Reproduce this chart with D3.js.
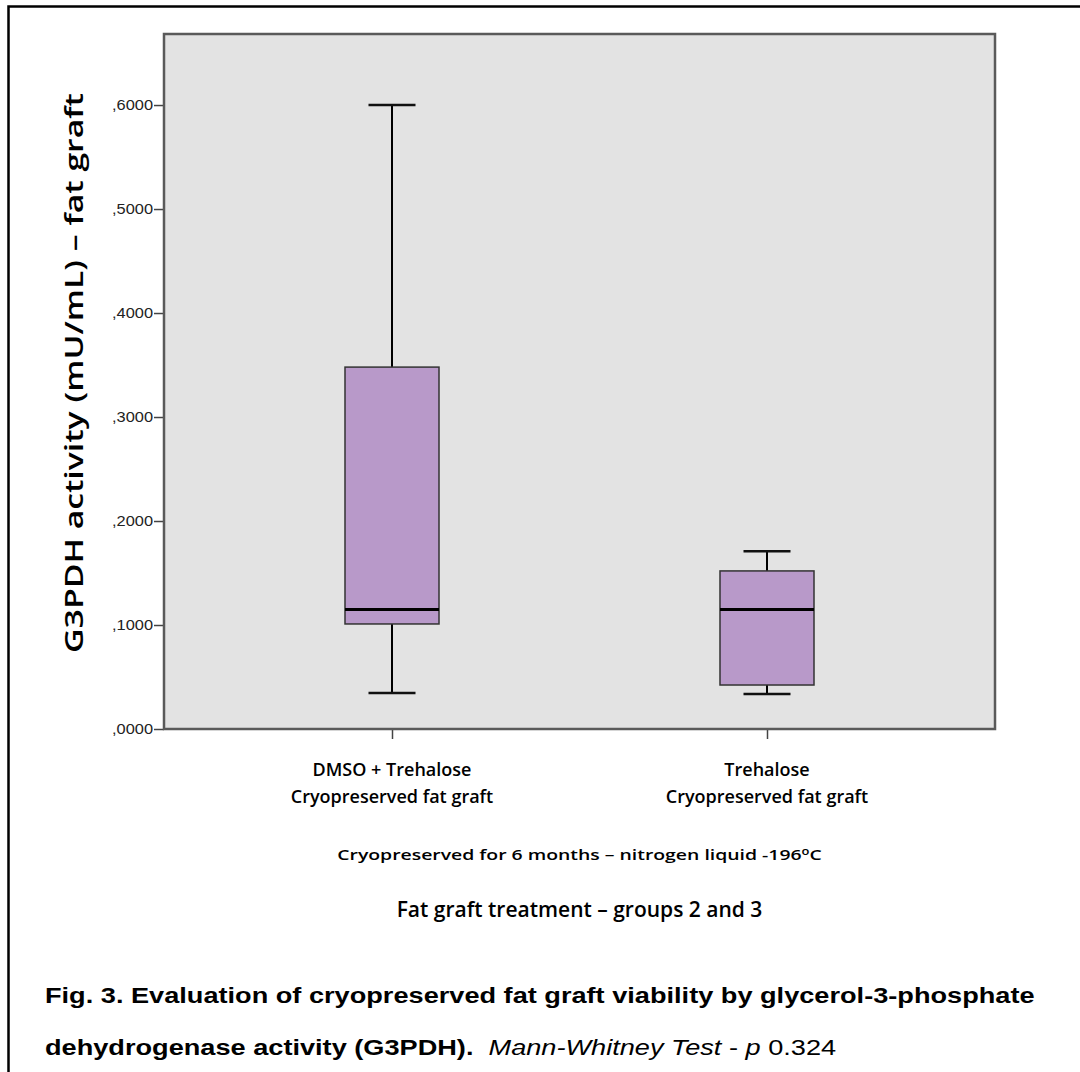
<!DOCTYPE html>
<html>
<head>
<meta charset="utf-8">
<script src="https://cdn.jsdelivr.net/npm/d3@7"></script>
<style>
  body { margin: 0; background: #fff; }
</style>
</head>
<body>
<script>
// groups and their box stats
const groups = ["DMSO + Trehalose", "Trehalose"];
const groupLine2 = ["Cryopreserved fat graft", "Cryopreserved fat graft"];
const whiskerLow = [0.0346, 0.0337];
const q1 = [0.101, 0.0423];
const median = [0.115, 0.115];
const q3 = [0.348, 0.152];
const whiskerHigh = [0.600, 0.171];
const yTicks = [0, 0.1, 0.2, 0.3, 0.4, 0.5, 0.6];

const W = 1080, H = 1072;
const margin = {top: 34, right: 85, bottom: 343, left: 164};
const width = W - margin.left - margin.right;
const height = H - margin.top - margin.bottom;

const svg = d3.select("body").append("svg")
    .attr("width", W)
    .attr("height", H);

// squeeze/stretch a text horizontally to the width it has in the figure
function fitWidth(sel, target) {
    const w = sel.node().getComputedTextLength();
    return target / w;
}

// outer frame (only top + left edges show in the picture)
svg.append("path")
    .attr("d", `M8.5,${H} L8.5,6.5 L${W},6.5`)
    .attr("fill", "none")
    .attr("stroke", "#000")
    .attr("stroke-width", 2.5);

const g = svg.append("g")
    .attr("transform", `translate(${margin.left},${margin.top})`);

const xScale = d3.scalePoint()
    .domain(groups)
    .range([0, width])
    .padding(0.608);

const yScale = d3.scaleLinear()
    .domain([0, 0.6683])
    .range([height, 0]);

// plot background
g.append("rect")
    .attr("width", width)
    .attr("height", height)
    .attr("fill", "#e3e3e3");

// axes
const fmt = d => "," + d3.format(".4f")(d).split(".")[1];
const yAxis = d3.axisLeft(yScale).tickValues(yTicks).tickFormat(fmt).tickSize(10).tickPadding(1);
const xAxis = d3.axisBottom(xScale).tickSize(10).tickFormat("");

const gy = g.append("g").call(yAxis);
gy.select(".domain").remove();
gy.selectAll(".tick line").attr("stroke", "#444").attr("stroke-width", 1.5);
gy.selectAll(".tick text")
    .attr("font-family", "Liberation Sans, Arial, sans-serif")
    .attr("font-size", 14)
    .attr("textLength", 41)
    .attr("lengthAdjust", "spacingAndGlyphs")
    .attr("fill", "#222");

const gx = g.append("g").attr("transform", `translate(0,${height})`).call(xAxis);
gx.select(".domain").remove();
gx.selectAll(".tick line").attr("stroke", "#444").attr("stroke-width", 1.5);

// plot border
g.append("rect")
    .attr("width", width)
    .attr("height", height)
    .attr("fill", "none")
    .attr("stroke", "#5a5a5a")
    .attr("stroke-width", 2.5);

// boxes
const boxW = 94, capW = 47;
groups.forEach((grp, i) => {
    const cx = xScale(grp);
    // whiskers
    g.append("line")
        .attr("x1", cx).attr("x2", cx)
        .attr("y1", yScale(whiskerHigh[i])).attr("y2", yScale(q3[i]))
        .attr("stroke", "#000").attr("stroke-width", 2);
    g.append("line")
        .attr("x1", cx).attr("x2", cx)
        .attr("y1", yScale(q1[i])).attr("y2", yScale(whiskerLow[i]))
        .attr("stroke", "#000").attr("stroke-width", 2);
    [whiskerHigh[i], whiskerLow[i]].forEach(v => {
        g.append("line")
            .attr("x1", cx - capW / 2).attr("x2", cx + capW / 2)
            .attr("y1", yScale(v)).attr("y2", yScale(v))
            .attr("stroke", "#111").attr("stroke-width", 2.5);
    });
    g.append("rect")
        .attr("x", cx - boxW / 2)
        .attr("y", yScale(q3[i]))
        .attr("width", boxW)
        .attr("height", yScale(q1[i]) - yScale(q3[i]))
        .attr("fill", "#b899c9")
        .attr("stroke", "#333")
        .attr("stroke-width", 1.5);
    g.append("line")
        .attr("x1", cx - boxW / 2).attr("x2", cx + boxW / 2)
        .attr("y1", yScale(median[i])).attr("y2", yScale(median[i]))
        .attr("stroke", "#000").attr("stroke-width", 3);

    // category labels
    [[grp, 776], [groupLine2[i], 803]].forEach(([t, y]) => {
        svg.append("text")
            .attr("x", margin.left + cx)
            .attr("y", y)
            .attr("text-anchor", "middle")
            .attr("font-family", "Open Sans, sans-serif")
            .attr("font-weight", 600)
            .attr("font-size", 18)
            .attr("fill", "#000")
            .text(t);
    });
});

// y axis title
const yTitle = svg.append("text")
    .attr("text-anchor", "middle")
    .attr("font-family", "Open Sans, sans-serif")
    .attr("font-weight", 600)
    .attr("font-size", 26)
    .attr("fill", "#000")
    .text("G3PDH activity (mU/mL) \u2013 fat graft");
const ys = fitWidth(yTitle, 560);
yTitle.attr("transform", `translate(83,373) rotate(-90) scale(${ys},1)`);

// x axis subtitle
const subX = margin.left + width / 2;
const sub = svg.append("text")
    .attr("x", 0)
    .attr("y", 0)
    .attr("text-anchor", "middle")
    .attr("font-family", "Open Sans, sans-serif")
    .attr("font-weight", 600)
    .attr("font-size", 15)
    .attr("fill", "#000");
sub.append("tspan").text("Cryopreserved for 6 months \u2013 nitrogen liquid -196");
sub.append("tspan").attr("font-size", 10).attr("dy", -5).text("o");
sub.append("tspan").attr("dy", 5).text("C");
const sx = fitWidth(sub, 485);
sub.attr("transform", `translate(${subX},860) scale(${sx},1)`);

svg.append("text")
    .attr("x", subX)
    .attr("y", 917)
    .attr("text-anchor", "middle")
    .attr("font-family", "Open Sans, sans-serif")
    .attr("font-weight", 600)
    .attr("font-size", 21)
    .attr("fill", "#000")
    .text("Fat graft treatment \u2013 groups 2 and 3");

// caption
const capFont = "Liberation Sans, Arial, sans-serif";
const capG = svg.append("g");
const cap1 = capG.append("text")
    .attr("x", 0)
    .attr("y", 1003)
    .attr("font-family", capFont)
    .attr("font-weight", "bold")
    .attr("font-size", 22)
    .attr("fill", "#000")
    .text("Fig. 3. Evaluation of cryopreserved fat graft viability by glycerol-3-phosphate");

const cap2 = capG.append("text")
    .attr("x", 0)
    .attr("y", 1055)
    .attr("font-family", capFont)
    .attr("font-size", 22)
    .attr("fill", "#000");
cap2.append("tspan").attr("font-weight", "bold").text("dehydrogenase activity (G3PDH).");
cap2.append("tspan").attr("font-style", "italic").text("\u00a0 Mann-Whitney Test");
cap2.append("tspan").text(" - ");
cap2.append("tspan").attr("font-style", "italic").text("p");
cap2.append("tspan").text(" 0.324");

const cs = fitWidth(cap1, 990);
capG.attr("transform", `translate(45,0) scale(${cs},1)`);
</script>
</body>
</html>
